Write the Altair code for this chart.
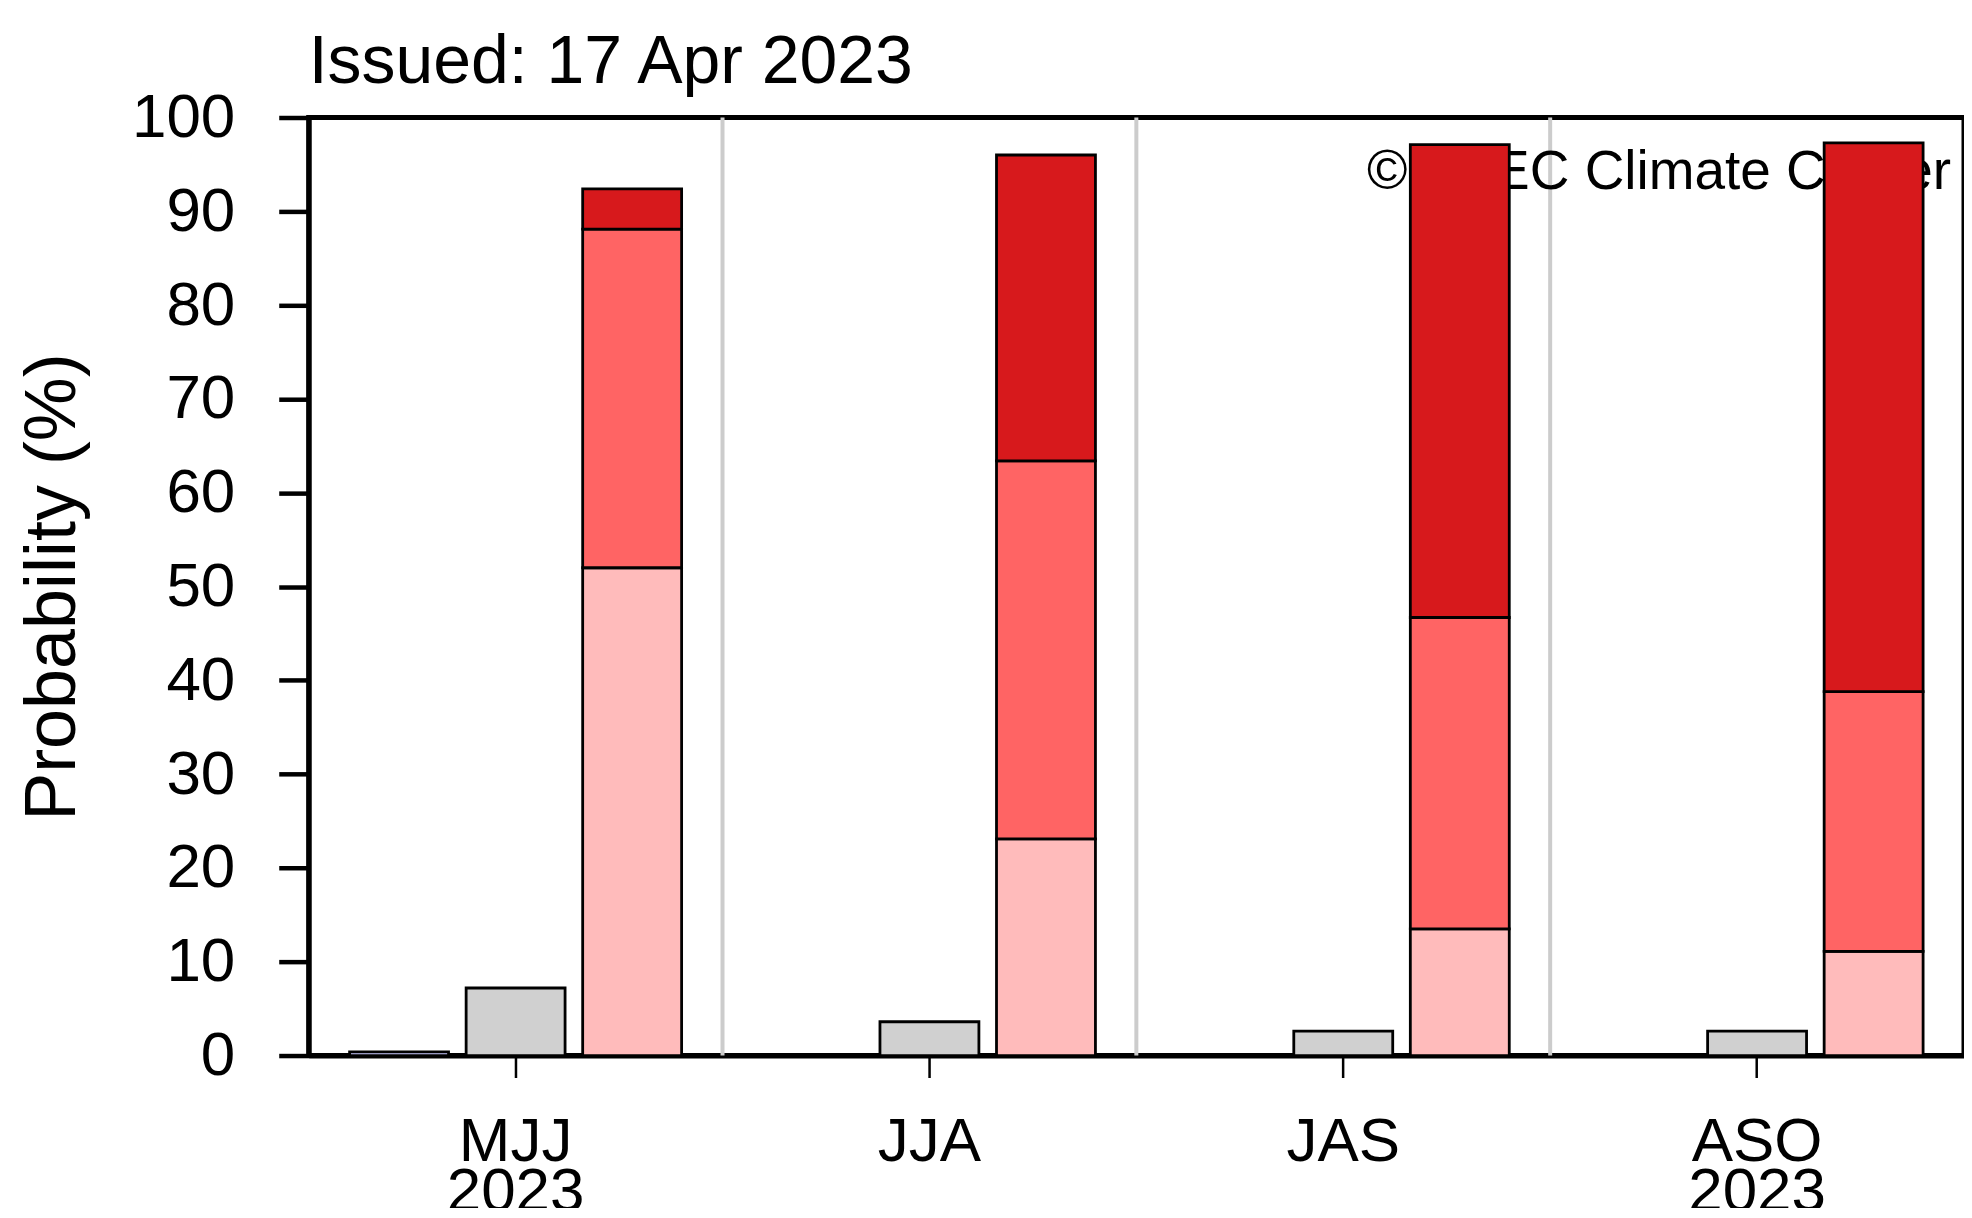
import altair as alt
import pandas as pd

# ---- data ----
periods = ["MJJ", "JJA", "JAS", "ASO"]
period_years = ["2023", "", "", "2023"]
below = [0.4, 0.0, 0.0, 0.0]
normal = [7.2, 3.6, 2.6, 2.6]
above_weak = [52.0, 23.1, 13.5, 11.1]
above_mod = [36.1, 40.3, 33.2, 27.7]
above_strong = [4.3, 32.6, 50.4, 58.5]

slots = ["below", "normal", "above"]
segments = ["Below normal", "Normal", "Above 1", "Above 2", "Above 3"]
seg_colors = ["#C8C8FF", "#D0D0D0", "#FFBBBB", "#FF6464", "#D7191C"]

issued_text = "Issued: 17 Apr 2023"
copyright_text = "\u00a9 APEC Climate Center"

FONT = "Liberation Sans"

# ---- build table ----
rows = []
for i, p in enumerate(periods):
    rows.append(dict(period=p, slot="below", segment="Below normal", y0=0.0, y1=below[i]))
    rows.append(dict(period=p, slot="normal", segment="Normal", y0=0.0, y1=normal[i]))
    base = 0.0
    for seg, vals in zip(["Above 1", "Above 2", "Above 3"], [above_weak, above_mod, above_strong]):
        rows.append(dict(period=p, slot="above", segment=seg, y0=base, y1=base + vals[i]))
        base += vals[i]
df = pd.DataFrame(rows)

# multi-line x labels
expr = "datum.value"
for p, yr in zip(periods, period_years):
    if yr:
        expr = f"datum.value == '{p}' ? ['{p}', '{yr}'] : " + expr

x_enc = alt.X(
    "period:N",
    sort=periods,
    scale=alt.Scale(paddingInner=0, paddingOuter=0),
    axis=alt.Axis(
        title="Time Period",
        labelExpr=expr,
        labelAngle=0,
        labelAlign="center",
        labelBaseline="top",
        labelFontSize=62,
        labelLineHeight=50,
        labelPadding=34,
        tickSize=22,
        tickWidth=2.5,
        tickColor="black",
        domainColor="black",
        domainWidth=5,
        titleFontSize=62,
        titleFontWeight="normal",
        titlePadding=-12,
        grid=False,
    ),
)

y_scale = alt.Scale(domain=[0, 100], nice=False)

bars = alt.Chart(df).mark_bar(stroke="black", strokeWidth=2.8).encode(
    x=x_enc,
    xOffset=alt.XOffset(
        "slot:N", sort=slots, scale=alt.Scale(paddingInner=0.151, paddingOuter=0.351)
    ),
    y=alt.Y(
        "y0:Q",
        scale=y_scale,
        axis=alt.Axis(
            title="Probability (%)",
            values=list(range(0, 101, 10)),
            labelFontSize=62,
            labelPadding=44,
            tickSize=30,
            tickWidth=4.5,
            tickColor="black",
            domainColor="black",
            domainWidth=5,
            titleFontSize=72,
            titleFontWeight="normal",
            titlePadding=42,
            grid=False,
        ),
    ),
    y2="y1:Q",
    color=alt.Color(
        "segment:N", scale=alt.Scale(domain=segments, range=seg_colors), legend=None
    ),
)

sep_df = pd.DataFrame({"period": periods[1:]})
seps = alt.Chart(sep_df).mark_rule(color="#CCCCCC", strokeWidth=4).encode(
    x=alt.X("period:N", sort=periods, bandPosition=0),
    y=alt.YDatum(0),
    y2=alt.Y2Datum(100),
)

copy_df = pd.DataFrame({"t": [copyright_text]})
copy_txt = alt.Chart(copy_df).mark_text(
    align="right", baseline="middle", fontSize=55, font=FONT, color="black"
).encode(text="t:N", x=alt.value(1644), y=alt.value(55))

issued_df = pd.DataFrame({"t": [issued_text]})
issued = alt.Chart(issued_df).mark_text(
    align="left", baseline="alphabetic", fontSize=68, font=FONT, color="black"
).encode(text="t:N", x=alt.value(0), y=alt.value(-35))

chart = (
    alt.layer(seps, copy_txt, bars, issued)
    .properties(
        width=1657,
        height=939,
        autosize=alt.AutoSizeParams(type="none"),
        padding={"left": 301, "top": 109, "right": 0, "bottom": 152},
        background="white",
    )
    .configure_view(stroke="black", strokeWidth=5)
    .configure_axis(labelFont=FONT, titleFont=FONT, labelColor="black", titleColor="black")
    .configure_text(font=FONT)
)

chart.save("out.html", embed_options={"renderer": "svg", "actions": False})
